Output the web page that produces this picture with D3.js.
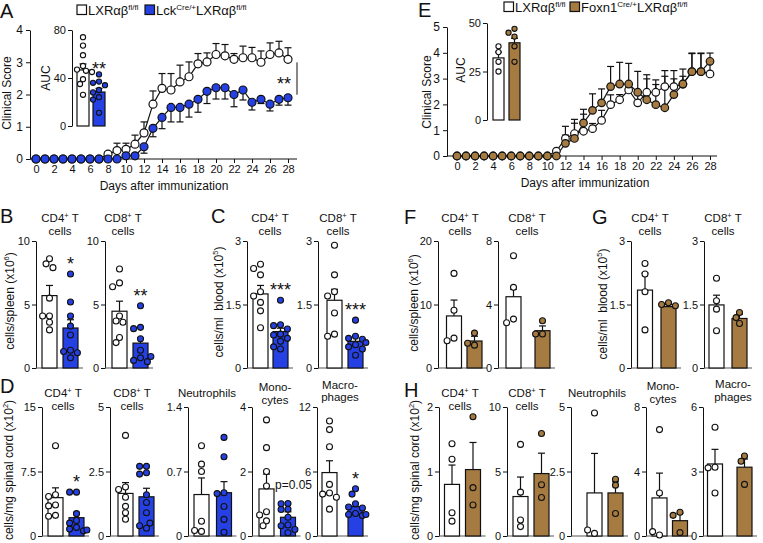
<!DOCTYPE html>
<html>
<head>
<meta charset="utf-8">
<script src="https://cdn.jsdelivr.net/npm/d3@7"></script>
<style>
  body { margin: 0; background: #fff; }
  svg { font-family: "Liberation Sans", Arial, sans-serif; }
  text { white-space: pre; }
</style>
</head>
<body>
<div id="chart"></div>
<script>
// ---------- data ----------
var days = [0, 1, 2, 3, 4, 5, 6, 7, 8, 9, 10, 11, 12, 13, 14, 15, 16, 17, 18, 19, 20, 21, 22, 23, 24, 25, 26, 27, 28];

// panel A : clinical score, LXRab fl/fl vs Lck-Cre
var ctrlScoreA = [0, 0, 0, 0, 0, 0, 0, 0, 0.15, 0.26, 0.3, 0.46, 0.81, 1.7, 2.19, 2.14, 2.39, 2.55, 2.95, 3.01, 3.24, 3.2, 3.09, 3.14, 3.14, 3.0, 3.24, 3.29, 3.09];
var ctrlSemA = [0, 0, 0, 0, 0, 0, 0, 0, 0.08, 0.23, 0.19, 0.28, 0.34, 0.41, 0.46, 0.51, 0.52, 0.46, 0.32, 0.28, 0.34, 0.35, 0.18, 0.36, 0.32, 0.35, 0.36, 0.36, 0.36];
var lckScore = [0, 0, 0, 0, 0, 0, 0, 0, 0, 0, 0.1, 0.1, 0.38, 0.95, 1.29, 1.6, 1.6, 1.7, 1.85, 2.1, 2.21, 2.21, 2.0, 2.14, 1.76, 1.85, 1.7, 1.85, 1.9];
var lckSem = [0, 0, 0, 0, 0, 0, 0, 0, 0, 0, 0, 0, 0.2, 0.26, 0.35, 0.45, 0.45, 0.4, 0.4, 0.38, 0.35, 0.35, 0.38, 0.31, 0.24, 0.13, 0.21, 0.18, 0.23];
var ctrlAucA = [74, 67, 59, 50, 47, 46, 45, 39, 35, 26];
var lckAuc = [43, 37, 36, 34, 30, 28, 24, 22, 11];
var aucMeanA = [46.7, 28.3];
var aucSemA = [5, 3];

// panel E : clinical score, LXRab fl/fl vs Foxn1-Cre
var ctrlScoreE = [0, 0, 0, 0, 0, 0, 0, 0, 0, 0, 0, 0.19, 0.68, 0.87, 0.96, 1.06, 1.38, 1.99, 2.18, 2.56, 2.06, 2.47, 2.47, 2.69, 2.69, 2.79, 3.27, 3.27, 3.18];
var ctrlSemE = [0, 0, 0, 0, 0, 0, 0, 0, 0, 0, 0, 0, 0.47, 0.55, 0.66, 0.2, 0.39, 0.38, 0.2, 0.2, 0.4, 0.52, 0.3, 0.4, 0.3, 0.3, 0.7, 0.7, 0.5];
var foxnScore = [0, 0, 0, 0, 0, 0, 0, 0, 0, 0, 0, 0, 0.49, 0.68, 1.28, 1.77, 2.06, 2.69, 2.79, 2.79, 2.47, 2.18, 1.99, 1.87, 2.38, 2.79, 3.27, 3.27, 3.67];
var foxnSem = [0, 0, 0, 0, 0, 0, 0, 0, 0, 0, 0, 0, 0.32, 0.59, 0.53, 0.64, 0.54, 0.78, 0.84, 0.8, 0.81, 0.97, 0.96, 1.44, 0.93, 0.58, 0.72, 0.72, 0.32];
var ctrlAucE = [38, 35, 30, 25];
var foxnAuc = [47, 45, 43, 38, 30];
var aucMeanE = [32, 39.8];
var aucSemE = [3, 2.3];

// titles
var tcellTitles = [["CD4<+> T", "cells"], ["CD8<+> T", "cells"]];
var cordTitles = [["CD4<+> T", "cells"], ["CD8<+> T", "cells"], ["Neutrophils"], ["Mono-", "cytes"], ["Macro-", "phages"]];

// B : spleen (x10^6), Lck
var spleenMaxA = [10, 10];
var spleenCtrlA = [[8.6, 8.2, 7.9, 5.5, 4.1, 4.1, 3.6, 3.0], [7.8, 6.7, 6.4, 4.1, 3.7, 3.6, 2.4, 2.0]];
var spleenLck = [[7.4, 5.2, 4.1, 3.3, 2.6, 1.4, 1.3, 1.2, 0.8], [4.9, 3.2, 3.1, 2.3, 1.4, 0.8, 0.6, 0.5, 0.9]];
var spleenMeanA = [[5.7, 3.15], [4.47, 1.96]];
var spleenSemA = [[0.8, 0.65], [0.79, 0.39]];
var spleenStarsA = ["*", "**"];

// C : blood (x10^5), Lck
var bloodMaxA = [3, 3];
var bloodCtrlA = [[2.45, 2.35, 2.2, 1.8, 1.7, 1.55, 1.35, 0.95], [2.9, 2.2, 1.8, 1.7, 1.3, 0.8, 0.75]];
var bloodLck = [[1.6, 1.02, 1.0, 0.92, 0.8, 0.78, 0.7, 0.63, 0.45, 0.5], [1.13, 0.75, 0.7, 0.68, 0.55, 0.5, 0.45, 0.3, 0.6]];
var bloodMeanA = [[1.75, 0.86], [1.6, 0.63]];
var bloodSemA = [[0.2, 0.08], [0.26, 0.12]];
var bloodStarsA = ["***", "***"];

// D : spinal cord (x10^2), Lck
var cordMaxA = [15, 5, 1.4, 4, 12];
var cordCtrlA = [[10.5, 4.8, 4.6, 3.6, 3.5, 2.4, 2.3], [3.9, 1.9, 1.8, 1.5, 1.15, 0.9, 0.65], [0.98, 0.78, 0.7, 0.16, 0.05, 0.06], [3.6, 2.74, 2.0, 1.55, 0.75, 0.65, 0.47, 0.32], [10.7, 9.9, 8.3, 4.8, 4.0, 3.9, 3.6, 2.5]];
var cordLck = [[5.1, 5.1, 2.6, 1.8, 1.5, 1.0, 0.8, 0.6, 0.7], [2.7, 2.7, 2.45, 2.4, 1.6, 1.3, 0.9, 0.3, 0.4, 0.5], [1.07, 0.86, 0.47, 0.46, 0.32, 0.18, 0.04], [1.01, 1.0, 0.83, 0.82, 0.58, 0.34, 0.32, 0.1, 0.2], [4.4, 3.9, 3.0, 2.7, 2.6, 2.1, 2.0, 1.9, 2.0]];
var cordMeanA = [[4.46, 2.13], [1.65, 1.52], [0.45, 0.47], [1.46, 0.58], [5.9, 2.73]];
var cordSemA = [[1.14, 0.63], [0.42, 0.33], [0.18, 0.12], [0.46, 0.17], [1.1, 0.25]];
var cordStarsA = ["*", "", "", "p=0.05", "*"];

// F : spleen, Foxn1
var spleenMaxE = [20, 8];
var spleenCtrlE = [[14.9, 9.1, 4.7, 4.3], [7.07, 5.08, 3.08, 2.85]];
var spleenFoxn = [[5.5, 3.6, 3.9], [2.98, 2.14, 2.14]];
var spleenMeanE = [[8.2, 4.25], [4.49, 2.35]];
var spleenSemE = [[2.5, 0.75], [0.47, 0.3]];

// G : blood, Foxn1
var bloodMaxE = [3, 3];
var bloodCtrlE = [[2.47, 2.22, 1.8, 0.9], [2.12, 1.59, 1.39, 0.88]];
var bloodFoxn = [[1.54, 1.5, 1.47], [1.31, 1.05, 1.19]];
var bloodMeanE = [[1.84, 1.45], [1.49, 1.17]];
var bloodSemE = [[0.4, 0.05], [0.23, 0.1]];

// H : spinal cord, Foxn1
var cordMaxE = [2, 10, 5, 8, 6];
var cordCtrlE = [[1.43, 1.19, 0.36, 0.23], [7.1, 3.4, 1.24, 0.73], [4.77, 0.1, 0.23], [6.6, 2.67, 0.06, 0.27], [5.06, 3.2, 3.17, 2.0]];
var cordFoxn = [[1.85, 0.75, 0.48], [7.94, 3.97, 2.98], [2.2, 1.97, 0.87], [1.47, 1.28, 0.21], [3.72, 3.48, 2.4]];
var cordMeanE = [[0.8, 1.03], [3.06, 4.84], [1.67, 1.67], [2.36, 0.95], [3.35, 3.2]];
var cordSemE = [[0.3, 0.42], [1.51, 1.58], [1.53, 0.43], [1.54, 0.47], [0.68, 0.38]];

// ---------- layout ----------
var blue = "#2541e4";
var brown = "#a57b42";
var ink = "#111";

var svg = d3.select("#chart")
  .append("svg")
  .attr("width", 763)
  .attr("height", 543);

svg.append("rect").attr("width", 763).attr("height", 543).attr("fill", "#fff");

// text with <sup> parts
function richText(sel, str, supSize, shift) {
  var parts = str.split(/<([^>]*)>/);
  var raised = false;
  parts.forEach(function(p, i) {
    if (!p) return;
    var t = sel.append("tspan").text(p);
    if (i % 2) {
      t.attr("font-size", supSize).attr("dy", -shift);
      raised = true;
    } else if (raised) {
      t.attr("dy", shift);
      raised = false;
    }
  });
  return sel;
}

function styleAxis(ax, fs) {
  ax.attr("font-family", null).attr("font-size", fs);
  ax.selectAll("path, line").attr("stroke", ink).attr("stroke-width", 1);
  ax.selectAll("text").attr("fill", ink);
}

function yLabel(str, x, cy, fs) {
  var t = svg.append("text")
    .attr("transform", `translate(${x}, ${cy}) rotate(-90)`)
    .attr("text-anchor", "middle")
    .attr("font-size", fs)
    .attr("fill", ink);
  richText(t, str, fs * 0.62, fs * 0.4);
}

function panelLetter(str, x, y) {
  svg.append("text").attr("x", x).attr("y", y).attr("font-size", 20).attr("fill", ink).text(str);
}

// beeswarm-ish dodge so dots do not overlap
function dodge(values, y, r) {
  var placed = [];
  return values.map(function(v) {
    var cy = y(v);
    var steps = [0, -1, 1, -2, 2, -3, 3];
    for (var k = 0; k < steps.length; k++) {
      var dx = steps[k] * r * 1.15;
      var free = placed.every(function(p) {
        return Math.hypot(p.dx - dx, p.cy - cy) >= 2 * r - 0.3;
      });
      if (free || k === steps.length - 1) {
        placed.push({ dx: dx, cy: cy });
        return { dx: dx, cy: cy };
      }
    }
  });
}

// one bar + dots panel
function barPanel(p) {
  var bw = p.bw || 15;
  var r = p.r || 3;
  var y = d3.scaleLinear().domain([0, p.max]).range([p.bottom, p.top]);
  var g = svg.append("g");

  var ax = g.append("g")
    .attr("transform", `translate(${p.x}, 0)`)
    .call(d3.axisLeft(y)
      .tickValues([0, p.max / 2, p.max])
      .tickFormat(d => String(d))
      .tickSize(4).tickSizeOuter(0).tickPadding(2));
  styleAxis(ax, 11);

  if (p.baseline !== false) {
    g.append("line")
      .attr("x1", p.x).attr("x2", p.c2 + bw / 2 + 5)
      .attr("y1", p.bottom).attr("y2", p.bottom)
      .attr("stroke", "#555").attr("stroke-width", 1);
  }

  var groups = [
    { c: p.c1, fill: "#fff", pts: p.ctrl, m: p.mean[0], s: p.sem[0] },
    { c: p.c2, fill: p.color, pts: p.ko, m: p.mean[1], s: p.sem[1] }
  ];

  groups.forEach(function(d) {
    g.append("rect")
      .attr("x", d.c - bw / 2)
      .attr("y", y(d.m))
      .attr("width", bw)
      .attr("height", y(0) - y(d.m))
      .attr("fill", d.fill)
      .attr("stroke", ink)
      .attr("stroke-width", 1.2);
    g.append("line")
      .attr("x1", d.c).attr("x2", d.c)
      .attr("y1", y(d.m)).attr("y2", y(d.m + d.s))
      .attr("stroke", ink).attr("stroke-width", 1.2);
    g.append("line")
      .attr("x1", d.c - 3.5).attr("x2", d.c + 3.5)
      .attr("y1", y(d.m + d.s)).attr("y2", y(d.m + d.s))
      .attr("stroke", ink).attr("stroke-width", 1.2);

    g.selectAll(null)
      .data(dodge(d.pts, y, r))
      .enter()
      .append("circle")
      .attr("cx", q => d.c + q.dx)
      .attr("cy", q => q.cy)
      .attr("r", r)
      .attr("fill", d.fill)
      .attr("stroke", ink)
      .attr("stroke-width", 1.1);
  });

  if (p.star && p.star.charAt(0) === "p") {
    g.append("text")
      .attr("x", p.c1 + 8.5)
      .attr("y", y(p.mean[0] + p.sem[0]) + 15)
      .attr("font-size", 12).attr("fill", ink)
      .text(p.star);
  } else if (p.star) {
    g.append("text")
      .attr("x", p.c2)
      .attr("y", y(d3.max(p.ko)) + (p.starDy === undefined ? -4 : p.starDy))
      .attr("text-anchor", "middle")
      .attr("font-size", 18).attr("fill", ink)
      .text(p.star);
  }

  if (p.title) {
    p.title.forEach(function(line, i) {
      var t = g.append("text")
        .attr("x", p.tx)
        .attr("y", p.ty + i * 12.5)
        .attr("text-anchor", "middle")
        .attr("font-size", 11.5)
        .attr("fill", ink);
      richText(t, line, 7.5, 4);
    });
  }
  return y;
}

// clinical score line chart
function scoreChart(o) {
  var x = d3.scaleLinear().domain([0, 28]).range([o.x0, o.x1]);
  var y = d3.scaleLinear().domain([0, o.maxY]).range([o.bottom, o.top]);
  var g = svg.append("g");

  var xa = g.append("g")
    .attr("transform", `translate(0, ${o.bottom})`)
    .call(d3.axisBottom(x).tickValues(days.filter(d => d % 2 === 0)).tickSize(4).tickSizeOuter(0).tickPadding(2));
  xa.select(".domain").remove();
  styleAxis(xa, 11);
  g.append("line")
    .attr("x1", o.axisX).attr("x2", o.axisEnd)
    .attr("y1", o.bottom).attr("y2", o.bottom)
    .attr("stroke", ink);

  var ya = g.append("g")
    .attr("transform", `translate(${o.axisX}, 0)`)
    .call(d3.axisLeft(y).ticks(o.maxY).tickSize(4).tickSizeOuter(0).tickPadding(3));
  styleAxis(ya, 12);

  var line = d3.line().x((d, i) => x(days[i])).y(d => y(d));

  o.series.forEach(function(s) {
    g.append("path")
      .datum(s.vals)
      .attr("d", line)
      .attr("fill", "none")
      .attr("stroke", ink)
      .attr("stroke-width", 1.2);
  });

  o.series.forEach(function(s) {
    var eb = days.filter((d, i) => s.sem[i] > 0);
    g.selectAll(null).data(eb).enter().append("line")
      .attr("x1", d => x(d)).attr("x2", d => x(d))
      .attr("y1", d => y(s.vals[d]))
      .attr("y2", d => y(s.vals[d] + s.dir * s.sem[d]))
      .attr("stroke", ink).attr("stroke-width", 1.2);
    g.selectAll(null).data(eb).enter().append("line")
      .attr("x1", d => x(d) - 3.5).attr("x2", d => x(d) + 3.5)
      .attr("y1", d => y(s.vals[d] + s.dir * s.sem[d]))
      .attr("y2", d => y(s.vals[d] + s.dir * s.sem[d]))
      .attr("stroke", ink).attr("stroke-width", 1.2);
  });

  o.series.forEach(function(s) {
    g.selectAll(null).data(s.vals).enter().append("circle")
      .attr("cx", (d, i) => x(days[i]))
      .attr("cy", d => y(d))
      .attr("r", o.r)
      .attr("fill", s.fill)
      .attr("stroke", ink)
      .attr("stroke-width", 1.2);
  });

  g.append("text")
    .attr("x", o.labelX).attr("y", o.bottom + 31)
    .attr("text-anchor", "middle")
    .attr("font-size", 12).attr("fill", ink)
    .text("Days after immunization");

  return { x: x, y: y };
}

function legendItem(x, yb, fill, str) {
  svg.append("rect")
    .attr("x", x).attr("y", yb - 10).attr("width", 9.5).attr("height", 9.5)
    .attr("fill", fill).attr("stroke", ink).attr("stroke-width", 1.2);
  var t = svg.append("text").attr("x", x + 11).attr("y", yb).attr("font-size", 13).attr("fill", ink);
  richText(t, str, 8, 5);
}

// ---------- panel A ----------
panelLetter("A", 0, 18);
legendItem(77, 15, "#fff", "LXRαβ<fl/fl>");
legendItem(145, 15, blue, "Lck<Cre/+>LXRαβ<fl/fl>");

var chartA = scoreChart({
  x0: 36, x1: 288, axisX: 30, axisEnd: 297, top: 30, bottom: 159, maxY: 4, r: 4, labelX: 164,
  series: [
    { vals: ctrlScoreA, sem: ctrlSemA, fill: "#fff", dir: 1 },
    { vals: lckScore, sem: lckSem, fill: blue, dir: -1 }
  ]
});
yLabel("Clinical Score", 11, 93, 12);

// significance bracket at day 28
var bracketX = chartA.x(28) + 9;
svg.append("line")
  .attr("x1", bracketX).attr("x2", bracketX)
  .attr("y1", chartA.y(ctrlScoreA[28]) + 3).attr("y2", chartA.y(lckScore[28]) - 3)
  .attr("stroke", ink).attr("stroke-width", 1);
svg.append("text")
  .attr("x", chartA.x(28) - 4)
  .attr("y", (chartA.y(ctrlScoreA[28]) + chartA.y(lckScore[28])) / 2 + 11)
  .attr("text-anchor", "middle").attr("font-size", 18).attr("fill", ink)
  .text("**");

// AUC inset A
barPanel({
  x: 72, c1: 83, c2: 99, top: 30, bottom: 126, max: 80, bw: 12, r: 2.6, baseline: false,
  mean: aucMeanA, sem: aucSemA, ctrl: ctrlAucA, ko: lckAuc, color: blue, star: "**", starDy: 1
});
yLabel("AUC", 50, 78, 12);

// ---------- panel E ----------
panelLetter("E", 418, 17);
legendItem(504, 12, "#fff", "LXRαβ<fl/fl>");
legendItem(570, 12, brown, "Foxn1<Cre/+>LXRαβ<fl/fl>");

scoreChart({
  x0: 457, x1: 710, axisX: 447, axisEnd: 717, top: 27, bottom: 156, maxY: 5, r: 3.8, labelX: 585,
  series: [
    { vals: ctrlScoreE, sem: ctrlSemE, fill: "#fff", dir: 1 },
    { vals: foxnScore, sem: foxnSem, fill: brown, dir: 1 }
  ]
});
yLabel("Clinical Score", 431, 92, 12);

barPanel({
  x: 487, c1: 498.5, c2: 514.5, top: 23, bottom: 120, max: 50, bw: 11, r: 2.6, baseline: false,
  mean: aucMeanE, sem: aucSemE, ctrl: ctrlAucE, ko: foxnAuc, color: brown
});
yLabel("AUC", 465, 70, 12);

// ---------- lower rows ----------
var top1 = 241, bot1 = 368, top2 = 407, bot2 = 536;

var spleenPosA = [{ x: 36, c1: 49.5, c2: 70.5, tx: 60 }, { x: 105, c1: 119.5, c2: 140.5, tx: 123 }];
var bloodPosA = [{ x: 247, c1: 260.5, c2: 280.5, tx: 270 }, { x: 318, c1: 334.5, c2: 355.5, tx: 338 }];
var cordPosA = [
  { x: 42, c1: 55.5, c2: 76.5, tx: 63, ty: 397 },
  { x: 110, c1: 125.5, c2: 146.5, tx: 132, ty: 397 },
  { x: 188, c1: 201.5, c2: 224, tx: 207, ty: 396.5 },
  { x: 252, c1: 266.5, c2: 288, tx: 275, ty: 391 },
  { x: 317, c1: 329.5, c2: 355.5, tx: 340, ty: 388.5 }
];
var spleenPosE = [{ x: 438, c1: 454, c2: 474.5, tx: 460 }, { x: 498, c1: 513.5, c2: 542.5, tx: 527 }];
var bloodPosE = [{ x: 631, c1: 645, c2: 668.5, tx: 650 }, { x: 704, c1: 716.5, c2: 739.5, tx: 723 }];
var cordPosE = [
  { x: 439, c1: 452, c2: 473, tx: 460, ty: 397 },
  { x: 507, c1: 520.5, c2: 541.5, tx: 527, ty: 397 },
  { x: 571, c1: 594.5, c2: 615.5, tx: 597, ty: 396.5 },
  { x: 646, c1: 659.5, c2: 680, tx: 663, ty: 390 },
  { x: 703, c1: 715, c2: 744.5, tx: 733, ty: 388 }
];

function row(pos, titles, maxes, ctrl, ko, means, sems, stars, color, top, bottom, ty) {
  pos.forEach(function(p, i) {
    barPanel({
      x: p.x, c1: p.c1, c2: p.c2, top: top, bottom: bottom, max: maxes[i],
      mean: means[i], sem: sems[i], ctrl: ctrl[i], ko: ko[i], color: color,
      star: stars ? stars[i] : "", title: titles[i], tx: p.tx, ty: p.ty || ty
    });
  });
}

panelLetter("B", 0, 223);
row(spleenPosA, tcellTitles, spleenMaxA, spleenCtrlA, spleenLck, spleenMeanA, spleenSemA, spleenStarsA, blue, top1, bot1, 222);
yLabel("cells/spleen (x10<6>)", 14, 301, 12);

panelLetter("C", 211, 223);
row(bloodPosA, tcellTitles, bloodMaxA, bloodCtrlA, bloodLck, bloodMeanA, bloodSemA, bloodStarsA, blue, top1, bot1, 222);
yLabel("cells/ml  blood (x10<5>)", 223, 302, 12);

panelLetter("D", 0, 393);
row(cordPosA, cordTitles, cordMaxA, cordCtrlA, cordLck, cordMeanA, cordSemA, cordStarsA, blue, top2, bot2, 397);
yLabel("cells/mg spinal cord (x10<2>)", 13, 470, 12);

panelLetter("F", 404, 224);
row(spleenPosE, tcellTitles, spleenMaxE, spleenCtrlE, spleenFoxn, spleenMeanE, spleenSemE, null, brown, top1, bot1, 222);
yLabel("cells/spleen (x10<6>)", 418, 303, 12);

panelLetter("G", 592, 224);
row(bloodPosE, tcellTitles, bloodMaxE, bloodCtrlE, bloodFoxn, bloodMeanE, bloodSemE, null, brown, top1, bot1, 222);
yLabel("cells/ml  blood (x10<5>)", 607, 304, 12);

panelLetter("H", 404, 397);
row(cordPosE, cordTitles, cordMaxE, cordCtrlE, cordFoxn, cordMeanE, cordSemE, null, brown, top2, bot2, 397);
yLabel("cells/mg spinal cord (x10<2>)", 419, 470, 12);
</script>
</body>
</html>
